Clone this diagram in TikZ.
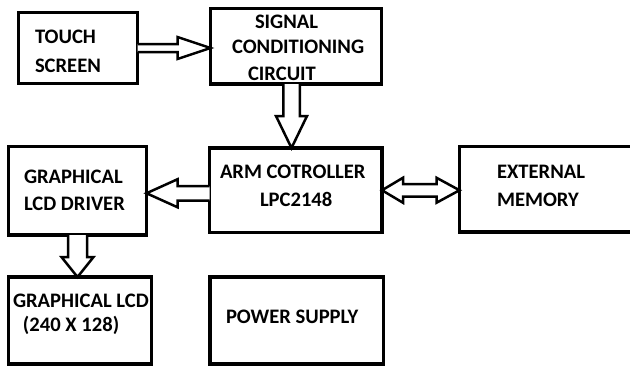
\documentclass[tikz,border=0pt]{standalone}
\usepackage{fontspec}
\setmainfont{Carlito}
\usetikzlibrary{calc}
\tikzset{
  box/.style={draw, line width=3.2pt, inner sep=0pt, outer sep=0pt, rectangle},
  lbl/.style={anchor=base west, inner sep=0pt, outer sep=0pt, font=\bfseries\fontsize{20.6}{24}\selectfont},
  hollow/.style={draw, line width=2.5pt, line join=miter, fill=white}
}
\begin{document}
\begin{tikzpicture}[x=1pt, y=-1pt]
\useasboundingbox (0,0) rectangle (630,367);
% boxes
\node[box, minimum width=119pt, minimum height=71pt] (ts) at (78,48) {};
\node[box, minimum width=171pt, minimum height=75.5pt] (sc) at (296,46.25) {};
\node[box, minimum width=172.5pt, minimum height=84.5pt] (arm) at (295.75,190.25) {};
\node[box, minimum width=138pt, minimum height=88.5pt] (drv) at (77.5,190.75) {};
\node[box, minimum width=173.5pt, minimum height=85.5pt] (ext) at (546.25,189.25) {};
\node[box, minimum width=143pt, minimum height=87pt] (lcd) at (80,320.5) {};
\node[box, minimum width=173.5pt, minimum height=87pt] (ps) at (296.75,320.5) {};
% texts
\node[lbl] (t1) at (35,43) {TOUCH};
\node[lbl] (t2) at (35,72) {SCREEN};
\node[lbl] (s1) at (255,28) {SIGNAL};
\node[lbl] (s2) at (232,53) {CONDITIONING};
\node[lbl] (s3) at (248,80) {CIRCUIT};
\node[lbl] (d1) at (24,183) {GRAPHICAL};
\node[lbl] (d2) at (24,210) {LCD DRIVER};
\node[lbl] (m1) at (220,178) {ARM COTROLLER};
\node[lbl] (m2) at (260,206) {LPC2148};
\node[lbl] (e1) at (497,178) {EXTERNAL};
\node[lbl] (e2) at (497,206) {MEMORY};
\node[lbl] (l1) at (13,307) {GRAPHICAL LCD};
\node[lbl] (l2) at (23,331) {(240 X 128)};
\node[lbl] (p1) at (226,323) {POWER SUPPLY};
% arrow 1: touch -> signal
\coordinate (a1s) at (ts.east);
\coordinate (a1t) at (sc.west |- ts.east);
\draw[hollow] ($(a1s)+(0,-4)$) -- ($(a1t)+(-33,-4)$) -- ($(a1t)+(-33,-11)$) -- (a1t)
  -- ($(a1t)+(-33,11)$) -- ($(a1t)+(-33,4)$) -- ($(a1s)+(0,4)$);
% arrow 2: signal -> arm
\coordinate (a2s) at ($(sc.south)+(-4.5,0)$);
\coordinate (a2t) at (a2s |- arm.north);
\draw[hollow] ($(a2s)+(-8.25,0)$) -- ($(a2t)+(-8.25,-32)$) -- ($(a2t)+(-15.5,-32)$) -- (a2t)
  -- ($(a2t)+(15.5,-32)$) -- ($(a2t)+(8.25,-32)$) -- ($(a2s)+(8.25,0)$);
% arrow 3: arm -> driver
\coordinate (a3s) at ($(arm.west)+(0,3)$);
\coordinate (a3t) at (drv.east |- a3s);
\draw[hollow] ($(a3s)+(0,-7.25)$) -- ($(a3t)+(31,-7.25)$) -- ($(a3t)+(31,-14)$) -- (a3t)
  -- ($(a3t)+(31,14)$) -- ($(a3t)+(31,7.25)$) -- ($(a3s)+(0,7.25)$);
% arrow 4: driver -> lcd
\coordinate (a4s) at (drv.south);
\coordinate (a4t) at (a4s |- lcd.north);
\draw[hollow] ($(a4s)+(-9.5,0)$) -- ($(a4t)+(-9.5,-20)$) -- ($(a4t)+(-16,-20)$) -- (a4t)
  -- ($(a4t)+(16,-20)$) -- ($(a4t)+(9.5,-20)$) -- ($(a4s)+(9.5,0)$);
% arrow 5: arm <-> external memory
\coordinate (a5s) at (arm.east);
\coordinate (a5t) at (ext.west |- arm.east);
\draw[hollow] (a5s) -- ($(a5s)+(21,-12.5)$) -- ($(a5s)+(21,-6.25)$) -- ($(a5t)+(-23,-6.25)$)
  -- ($(a5t)+(-23,-12.5)$) -- (a5t) -- ($(a5t)+(-23,12.5)$) -- ($(a5t)+(-23,6.25)$)
  -- ($(a5s)+(21,6.25)$) -- ($(a5s)+(21,12.5)$) -- cycle;
\end{tikzpicture}
\end{document}
